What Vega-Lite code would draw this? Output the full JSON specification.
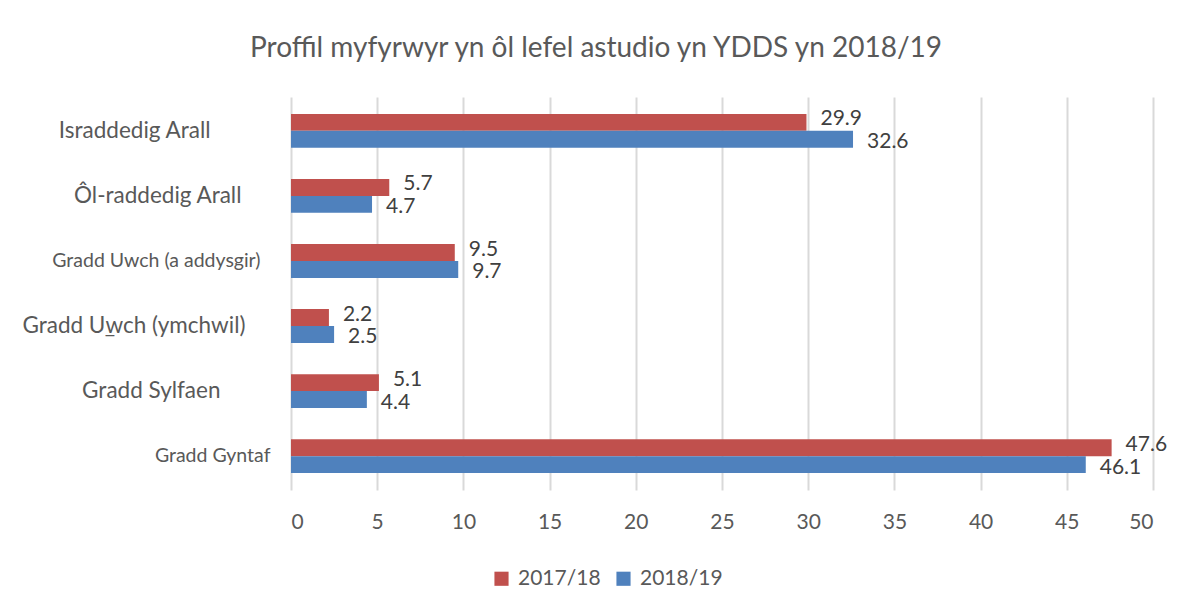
{
  "$schema": "https://vega.github.io/schema/vega-lite/v6.json",
  "width": 862,
  "height": 393,
  "autosize": {"type": "none"},
  "padding": {"left": 291, "top": 97, "right": 39, "bottom": 120},
  "background": "white",
  "config": {"view": {"stroke": null}, "font": "Lato"},
  "title": {"text": "Proffil myfyrwyr yn ôl lefel astudio yn YDDS yn 2018/19", "fontSize": 28, "font": "Lato", "fontWeight": "normal", "color": "#595959", "dx": -126, "offset": 34, "anchor": "middle"},
  "data": {"values": [
    {"cat": "Israddedig Arall", "year": "2017/18", "value": 29.9},
    {"cat": "Israddedig Arall", "year": "2018/19", "value": 32.6},
    {"cat": "Ôl-raddedig Arall", "year": "2017/18", "value": 5.7},
    {"cat": "Ôl-raddedig Arall", "year": "2018/19", "value": 4.7},
    {"cat": "Gradd Uwch (a addysgir)", "year": "2017/18", "value": 9.5},
    {"cat": "Gradd Uwch (a addysgir)", "year": "2018/19", "value": 9.7},
    {"cat": "Gradd U̲wch (ymchwil)", "year": "2017/18", "value": 2.2},
    {"cat": "Gradd U̲wch (ymchwil)", "year": "2018/19", "value": 2.5},
    {"cat": "Gradd Sylfaen", "year": "2017/18", "value": 5.1},
    {"cat": "Gradd Sylfaen", "year": "2018/19", "value": 4.4},
    {"cat": "Gradd Gyntaf", "year": "2017/18", "value": 47.6},
    {"cat": "Gradd Gyntaf", "year": "2018/19", "value": 46.1}
  ]},
  "encoding": {
    "y": {
      "field": "cat", "type": "nominal",
      "sort": ["Israddedig Arall", "Ôl-raddedig Arall", "Gradd Uwch (a addysgir)", "Gradd U̲wch (ymchwil)", "Gradd Sylfaen", "Gradd Gyntaf"],
      "scale": {"paddingInner": 0.48, "paddingOuter": 0.26},
      "title": null,
      "axis": {
        "domain": false, "ticks": false, "labelAlign": "right", "labelLimit": 400,
        "labelColor": "#595959", "labelFont": "Lato",
        "labelFontSize": {"condition": [{"test": "datum.value == 'Gradd Uwch (a addysgir)' || datum.value == 'Gradd Gyntaf'", "value": 19.5}], "value": 22.5},
        "labelPadding": {"condition": [
          {"test": "datum.value == 'Israddedig Arall'", "value": 81},
          {"test": "datum.value == 'Ôl-raddedig Arall'", "value": 50},
          {"test": "datum.value == 'Gradd Uwch (a addysgir)'", "value": 31},
          {"test": "datum.value == 'Gradd Sylfaen'", "value": 71},
          {"test": "datum.value == 'Gradd Gyntaf'", "value": 21}
        ], "value": 46}
      }
    },
    "yOffset": {"field": "year", "type": "nominal", "sort": ["2017/18", "2018/19"]},
    "x": {
      "field": "value", "type": "quantitative",
      "scale": {"domain": [0, 50], "nice": false},
      "title": null,
      "axis": {"values": [0, 5, 10, 15, 20, 25, 30, 35, 40, 45, 50], "grid": true, "gridColor": "#d9d9d9", "gridWidth": 2, "domain": false, "ticks": false, "labelFontSize": 21, "labelColor": "#595959", "labelFont": "Lato", "labelPadding": 21}
    }
  },
  "layer": [
    {
      "mark": {"type": "bar"},
      "encoding": {
        "color": {
          "field": "year", "type": "nominal",
          "scale": {"domain": ["2017/18", "2018/19"], "range": ["#C0504D", "#4F81BD"]},
          "legend": {"title": null, "orient": "none", "legendX": 200, "legendY": 471, "direction": "horizontal", "symbolType": "square", "symbolSize": 200, "symbolStrokeWidth": 0, "labelFontSize": 21, "labelColor": "#595959", "labelFont": "Lato", "columnPadding": 12, "labelOffset": 6}
        }
      }
    },
    {
      "transform": [{"filter": "datum.year == '2017/18'"}],
      "mark": {"type": "text", "align": "left", "baseline": "middle", "dx": 14, "dy": -3, "fontSize": 21, "color": "#404040", "font": "Lato"},
      "encoding": {"text": {"field": "value", "type": "quantitative", "format": ".1f"}}
    },
    {
      "transform": [{"filter": "datum.year == '2018/19'"}],
      "mark": {"type": "text", "align": "left", "baseline": "middle", "dx": 14, "dy": 3, "fontSize": 21, "color": "#404040", "font": "Lato"},
      "encoding": {"text": {"field": "value", "type": "quantitative", "format": ".1f"}}
    }
  ]
}
